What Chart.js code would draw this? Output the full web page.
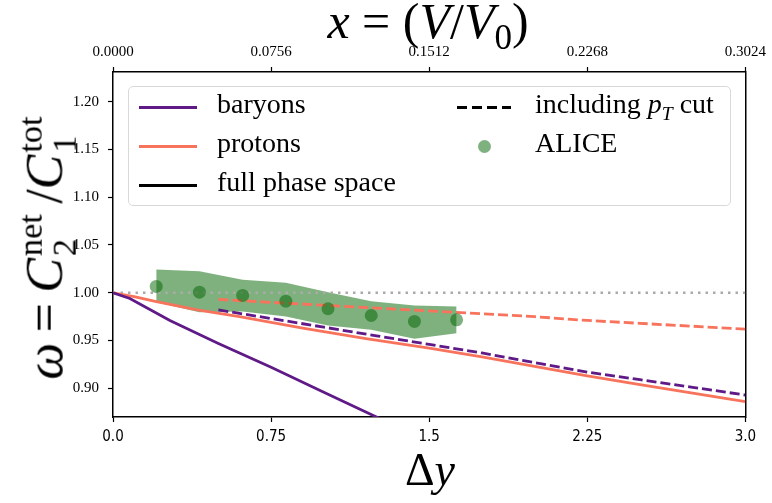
<!DOCTYPE html>
<html>
<head>
<meta charset="utf-8">
<script src="https://cdn.jsdelivr.net/npm/chart.js@4.4.1/dist/chart.umd.min.js"></script>
<style>
  body { margin: 0; background: #fff; }
  #wrap { position: relative; width: 772px; height: 503px; font-family: "Liberation Serif", "DejaVu Serif", serif; color: #000; }
  #c { position: absolute; left: 0; top: 0; }
  .lbl { position: absolute; white-space: nowrap; line-height: 1; }
  .legend { position: absolute; left: 128px; top: 86px; width: 603px; height: 120px; border: 1px solid #d9d9d9; border-radius: 5px; background: rgba(255,255,255,0.8); box-sizing: border-box; }
  .item { position: absolute; font-size: 28px; white-space: nowrap; line-height: 1; }
  .swatch { position: absolute; height: 0; }
  .ss { display: inline-block; vertical-align: -0.42em; font-size: 0.66em; line-height: 1.0; text-align: left; margin-left: 2px; }
  .ss span { display: block; }
</style>
</head>
<body>
<div id="wrap">
  <canvas id="c" width="772" height="503"></canvas>

  <div class="legend" id="legend"></div>

  <div class="lbl" style="left:428px; top:25px; transform:translate(-50%,-50%); font-size:50px;">
    <i>x</i> = (<i>V</i>/<i>V</i><sub style="font-size:0.7em">0</sub>)
  </div>
  <div class="lbl" style="left:430px; top:470px; transform:translate(-50%,-50%); font-size:46px;">
    &Delta;<i>y</i>
  </div>
  <div class="lbl" style="left:47px; top:248px; transform:translate(-50%,-50%) rotate(-90deg); font-size:52px;">
    <i>&omega;</i>&thinsp;=&thinsp;<i>C</i><span class="ss"><span>net</span><span>2</span></span>&thinsp;/<i>C</i><span class="ss"><span>tot</span><span>1</span></span>
  </div>
</div>

<script>
// axis ticks
const bottomTicks = [0, 0.75, 1.5, 2.25, 3.0];
const bottomLabels = ["0.0", "0.75", "1.5", "2.25", "3.0"];
const topTicks = [0, 0.0756, 0.1512, 0.2268, 0.3024];
const topLabels = ["0.0000", "0.0756", "0.1512", "0.2268", "0.3024"];
const yTicks = [0.90, 0.95, 1.00, 1.05, 1.10, 1.15, 1.20];

// baryons, full phase space
const baryonsX = [0, 0.08, 0.27, 0.5, 0.75, 1.0, 1.25, 1.3];
const baryonsY = [1.0, 0.994, 0.971, 0.947, 0.922, 0.896, 0.870, 0.865];

// protons, full phase space
const protonsX = [0, 0.1, 0.2, 0.4, 0.6, 0.9, 1.2, 1.5, 1.75, 2.0, 2.25, 2.5, 2.75, 3.0];
const protonsY = [1.0, 0.996, 0.991, 0.982, 0.975, 0.963, 0.952, 0.942, 0.933, 0.923, 0.913, 0.904, 0.895, 0.886];

// including pT cut
const cutX = [0.5, 0.75, 1.0, 1.25, 1.5, 1.75, 2.0, 2.25, 2.5, 2.75, 3.0];
const baryonsCutY = [0.982, 0.973, 0.964, 0.955, 0.946, 0.937, 0.927, 0.917, 0.909, 0.901, 0.893];
const protonsCutY = [0.993, 0.990, 0.987, 0.984, 0.981, 0.978, 0.975, 0.971, 0.968, 0.965, 0.962];

// ALICE data with uncertainty band
const aliceX = [0.205, 0.41, 0.615, 0.82, 1.02, 1.225, 1.43, 1.63];
const aliceY = [1.0066, 1.0006, 0.9972, 0.9912, 0.9833, 0.9762, 0.970, 0.9717];
const aliceHi = [1.0244, 1.0226, 1.0136, 1.0105, 1.0006, 0.9912, 0.9867, 0.9857];
const aliceLo = [0.9902, 0.9797, 0.9804, 0.9752, 0.9658, 0.9613, 0.9519, 0.9577];

const refX = [0, 3.0];
const refY = [1.0, 1.0];

const purple = "#5f1a87";
const salmon = "#f8735c";
const green = "rgba(0,100,0,0.5)";

function pts(xs, ys) {
  return xs.map((x, i) => ({ x: x, y: ys[i] }));
}

function line(data, color, dash, order, width) {
  return {
    data: data, showLine: true, borderColor: color, borderWidth: width || 2.8,
    borderDash: dash, pointRadius: 0, fill: false, order: order, clip: 0,
    xAxisID: "x", yAxisID: "y"
  };
}

// legend (html so the math subscripts work)
const legend = document.getElementById("legend");
const legendItems = [
  { label: "baryons", color: purple, dash: false, x: 10, y: 20 },
  { label: "protons", color: salmon, dash: false, x: 10, y: 59 },
  { label: "full phase space", color: "#000", dash: false, x: 10, y: 98 },
  { label: "including <i>p</i><sub style='font-size:0.7em'><i>T</i></sub> cut", color: "#000", dash: true, x: 328, y: 20 },
  { label: "ALICE", marker: true, x: 328, y: 59 }
];
legendItems.forEach(it => {
  if (it.marker) {
    const m = document.createElement("div");
    m.style.cssText = "position:absolute;width:13px;height:13px;border-radius:50%;background:" + green +
      ";left:" + (it.x + 21) + "px;top:" + (it.y - 6) + "px";
    legend.appendChild(m);
  } else {
    const s = document.createElement("div");
    s.className = "swatch";
    s.style.cssText += "left:" + it.x + "px;top:" + (it.y - 1) + "px;width:58px;border-top:3px solid " + it.color;
    if (it.dash) {
      s.style.borderTop = "none";
      s.style.height = "3px";
      s.style.width = "54px";
      s.style.background = "repeating-linear-gradient(90deg," + it.color + " 0 10px, transparent 10px 15px)";
    }
    legend.appendChild(s);
  }
  const t = document.createElement("div");
  t.className = "item";
  t.style.left = (it.x + 78) + "px";
  t.style.top = (it.y - 17) + "px";
  t.innerHTML = it.label;
  legend.appendChild(t);
});

const serifTicks = { family: "'Liberation Serif', 'DejaVu Serif', serif", size: 15 };
const sansTicks = { family: "'Liberation Sans Narrow', 'DejaVu Sans Condensed', sans-serif", size: 15 };

const axisGrid = { drawOnChartArea: false, color: "#000", tickLength: 5, tickWidth: 1.2 };
const axisBorder = { display: true, color: "#000", width: 1.5 };

new Chart(document.getElementById("c"), {
  type: "scatter",
  data: {
    datasets: [
      {
        data: pts(aliceX, aliceY), pointRadius: 6.5, pointBackgroundColor: green,
        pointBorderWidth: 0, showLine: false, order: 0, xAxisID: "x", yAxisID: "y"
      },
      line(pts(baryonsX, baryonsY), purple, [], 1),
      line(pts(protonsX, protonsY), salmon, [], 1),
      line(pts(cutX, baryonsCutY), purple, [10, 4], 1),
      line(pts(cutX, protonsCutY), salmon, [10, 4], 1),
      line(pts(refX, refY), "#aaaaaa", [2.5, 5], 2, 2.5),
      {
        data: pts(aliceX, aliceHi), showLine: true, borderWidth: 0, borderColor: "transparent",
        pointRadius: 0, fill: "+1", backgroundColor: green, order: 3, xAxisID: "x", yAxisID: "y"
      },
      {
        data: pts(aliceX, aliceLo), showLine: true, borderWidth: 0, borderColor: "transparent",
        pointRadius: 0, fill: false, order: 3, xAxisID: "x", yAxisID: "y"
      }
    ]
  },
  options: {
    responsive: false,
    animation: false,
    layout: { padding: 0 },
    plugins: { legend: { display: false }, tooltip: { enabled: false } },
    scales: {
      x: {
        type: "linear", position: "bottom", min: 0, max: 3.0,
        afterBuildTicks: s => { s.ticks = bottomTicks.map(v => ({ value: v })); },
        afterFit: s => { s.height = 86; },
        ticks: { callback: (v, i) => bottomLabels[i], font: sansTicks, color: "#000", padding: 6, maxRotation: 0 },
        grid: axisGrid, border: axisBorder
      },
      x2: {
        type: "linear", position: "top", min: 0, max: 0.3024,
        afterBuildTicks: s => { s.ticks = topTicks.map(v => ({ value: v })); },
        afterFit: s => { s.height = 72; },
        ticks: { callback: (v, i) => topLabels[i], font: serifTicks, color: "#000", padding: 6, maxRotation: 0 },
        grid: axisGrid, border: axisBorder
      },
      y: {
        type: "linear", position: "left", min: 0.87, max: 1.231,
        afterBuildTicks: s => { s.ticks = yTicks.map(v => ({ value: v })); },
        afterFit: s => { s.width = 113; },
        ticks: { callback: v => v.toFixed(2), font: serifTicks, color: "#000", padding: 9 },
        grid: axisGrid, border: axisBorder
      },
      y2: {
        type: "linear", position: "right", min: 0, max: 1,
        afterFit: s => { s.width = 26; },
        ticks: { display: false },
        grid: { display: false },
        border: axisBorder
      }
    }
  }
});
</script>
</body>
</html>
